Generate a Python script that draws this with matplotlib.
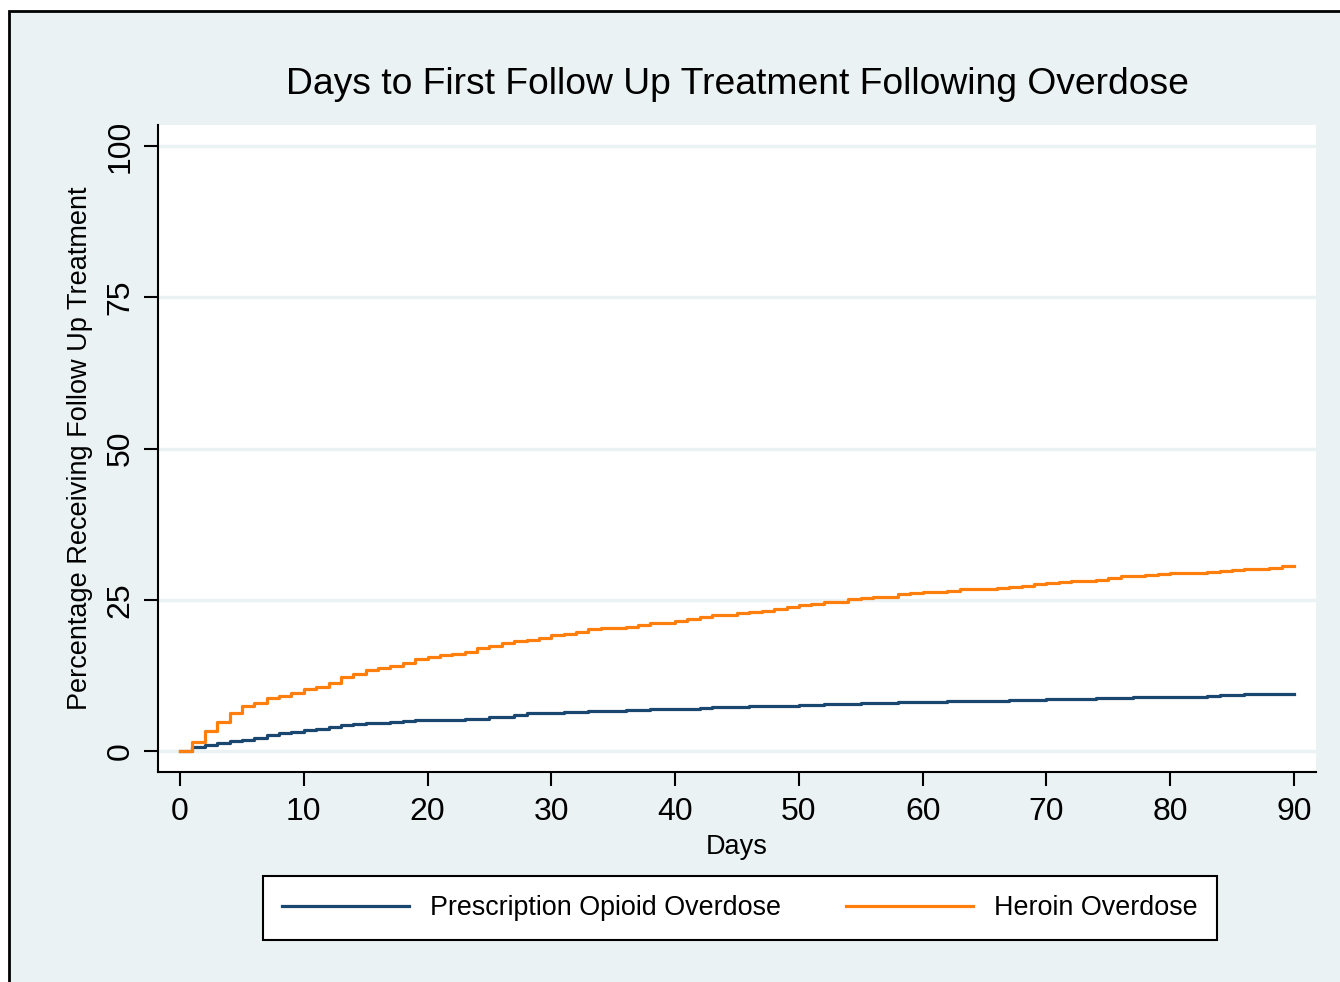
import numpy as np
import matplotlib
matplotlib.use("Agg")
import matplotlib.pyplot as plt
import matplotlib.patches as mpatches

## Data -----------------------------------------------------------
days = list(range(0, 91))

prescription = [
    0.0, 0.6, 1.0, 1.3, 1.7, 1.9, 2.2, 2.6, 2.9, 3.1,
    3.4, 3.7, 4.0, 4.3, 4.4, 4.6, 4.7, 4.8, 5.0, 5.1,
    5.1, 5.2, 5.2, 5.3, 5.3, 5.6, 5.7, 5.95, 6.2, 6.2,
    6.3, 6.4, 6.4, 6.55, 6.65, 6.65, 6.7, 6.7, 6.9, 6.9,
    6.9, 7.0, 7.1, 7.3, 7.3, 7.3, 7.4, 7.4, 7.4, 7.5,
    7.65, 7.65, 7.8, 7.85, 7.85, 7.9, 7.9, 7.9, 8.05, 8.05,
    8.05, 8.05, 8.2, 8.2, 8.3, 8.3, 8.3, 8.35, 8.5, 8.5,
    8.6, 8.6, 8.6, 8.6, 8.7, 8.8, 8.8, 8.9, 8.9, 8.9,
    8.9, 9.0, 9.0, 9.15, 9.25, 9.25, 9.35, 9.35, 9.45, 9.45,
    9.45,
]

heroin = [
    0.0, 1.5, 3.3, 4.8, 6.2, 7.4, 7.9, 8.8, 9.1, 9.6,
    10.2, 10.6, 11.3, 12.2, 12.7, 13.4, 13.7, 14.0, 14.6, 15.2,
    15.5, 15.8, 16.0, 16.4, 17.0, 17.4, 17.8, 18.2, 18.4, 18.6,
    19.1, 19.4, 19.7, 20.1, 20.3, 20.4, 20.5, 20.8, 21.1, 21.2,
    21.5, 21.8, 22.1, 22.4, 22.5, 22.8, 23.0, 23.2, 23.4, 23.8,
    24.1, 24.3, 24.6, 24.7, 25.1, 25.3, 25.4, 25.5, 26.0, 26.1,
    26.2, 26.35, 26.5, 26.75, 26.75, 26.85, 27.0, 27.1, 27.3, 27.6,
    27.7, 28.0, 28.1, 28.1, 28.3, 28.6, 28.9, 29.0, 29.1, 29.25,
    29.35, 29.4, 29.5, 29.6, 29.8, 30.0, 30.1, 30.15, 30.3, 30.5,
    30.5,
]

x_ticks = [0, 10, 20, 30, 40, 50, 60, 70, 80, 90]
y_ticks = [0, 25, 50, 75, 100]

title = "Days to First Follow Up Treatment Following Overdose"
x_label = "Days"
y_label = "Percentage Receiving Follow Up Treatment"
series_names = ["Prescription Opioid Overdose", "Heroin Overdose"]

## Style ----------------------------------
BG = "#EAF2F3"
NAVY = "#1A476F"
ORANGE = "#FF7F0E"
plt.rcParams["font.family"] = ["Liberation Sans", "DejaVu Sans"]

W, H = 1340, 982
fig = plt.figure(figsize=(W / 100, H / 100), dpi=100)
fig.patch.set_facecolor("white")

# graph region with its frame (cut off at right and bottom)
frame = mpatches.Rectangle((8.5 / W, -0.05), 1.2, 1 - 10.5 / H + 0.05,
                           transform=fig.transFigure, facecolor=BG,
                           edgecolor="black", linewidth=2.0, zorder=0)
fig.add_artist(frame)

ax = fig.add_axes([158 / W, 1 - 772 / H, (1316 - 158) / W, (772 - 125) / H])
ax.set_facecolor("white")
ax.set_zorder(1)

ax.plot(days, prescription, drawstyle="steps-post", color=NAVY,
        linewidth=2.3, label=series_names[0], zorder=3)
ax.plot(days, heroin, drawstyle="steps-post", color=ORANGE,
        linewidth=2.3, label=series_names[1], zorder=4)

ax.set_xlim(-1.78, 91.78)
ax.set_ylim(-3.47, 103.47)
ax.set_xticks(x_ticks)
ax.set_yticks(y_ticks)
ax.set_yticklabels([str(v) for v in y_ticks], rotation=90, va="center")

ax.set_axisbelow(True)
ax.yaxis.grid(True, color=BG, linewidth=2.5)
ax.xaxis.grid(False)

for s in ["top", "right"]:
    ax.spines[s].set_visible(False)
for s in ["left", "bottom"]:
    ax.spines[s].set_linewidth(1.5)
    ax.spines[s].set_color("black")

ax.tick_params(axis="both", direction="out", length=10, width=1.5,
               labelsize=23)
ax.tick_params(axis="x", pad=8)
ax.tick_params(axis="y", pad=6)

ax.set_xlabel(x_label, fontsize=19.5, labelpad=5)
ax.set_ylabel(y_label, fontsize=19.5, labelpad=9)

fig.text(737 / W, 1 - 84 / H, title, fontsize=26.8, ha="center", va="center")

leg = fig.legend(loc="center", bbox_to_anchor=(740 / W, 1 - 908 / H),
                 ncol=2, fontsize=19.4, frameon=True, fancybox=False,
                 edgecolor="black", facecolor="white", framealpha=1,
                 handlelength=4.7, handletextpad=0.8, columnspacing=2.4,
                 borderpad=0.72)
leg.get_frame().set_linewidth(1.5)

fig.savefig("out.png", dpi=100, facecolor=fig.get_facecolor())
